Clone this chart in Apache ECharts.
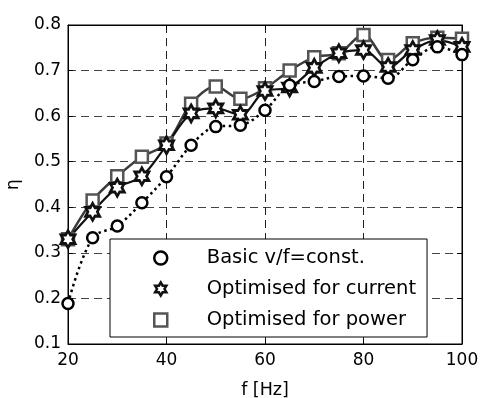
<!DOCTYPE html>
<html>
<head>
<meta charset="utf-8">
<script src="https://cdn.jsdelivr.net/npm/echarts@6/dist/echarts.min.js"></script>
<style>
  html, body {margin: 0; padding: 0; background: #fff;}
  #main {width: 481px; height: 398px;}
</style>
</head>
<body>
<div id="main"></div>
<script>
// frequency [Hz]
const freq = [20, 25, 30, 35, 40, 45, 50, 55, 60, 65, 70, 75, 80, 85, 90, 95, 100];
// efficiency for each control scheme
const basic = [0.189, 0.333, 0.359, 0.410, 0.467, 0.536, 0.577, 0.580, 0.613, 0.668, 0.676, 0.687, 0.688, 0.683, 0.724, 0.752, 0.735];
const current = [0.330, 0.390, 0.443, 0.468, 0.536, 0.606, 0.617, 0.603, 0.655, 0.663, 0.706, 0.738, 0.745, 0.708, 0.745, 0.767, 0.752];
const power = [0.330, 0.415, 0.468, 0.511, 0.540, 0.627, 0.665, 0.638, 0.661, 0.700, 0.729, 0.738, 0.778, 0.723, 0.760, 0.772, 0.770];
const names = ['Basic v/f=const.', 'Optimised for current', 'Optimised for power'];

const hexagram = 'path://M10,0L12.887,5L18.66,5L15.774,10L18.66,15L12.887,15L10,20L7.113,15L1.34,15L4.226,10L1.34,5L7.113,5Z';
const square = 'path://M0,0L10,0L10,10L0,10Z';
const font = 'DejaVu Sans';

const pairs = (ys) => freq.map((f, i) => [f, ys[i]]);

let myChart = echarts.init(document.getElementById('main'));
let option = {
  animation: false,
  backgroundColor: '#fff',
  grid: {
    left: 68, right: 19, top: 25, bottom: 54,
    outerBoundsMode: 'none', containLabel: false,
    show: true, borderColor: '#000', borderWidth: 1,
  },
  xAxis: [
    {
      type: 'value', min: 20, max: 100, interval: 20,
      name: 'f [Hz]', nameLocation: 'middle', nameGap: 37,
      nameTextStyle: {fontFamily: font, fontSize: 17.5, color: '#000'},
      axisLine: {lineStyle: {color: '#000', width: 1}},
      axisTick: {inside: true, length: 5, lineStyle: {color: '#000'}},
      axisLabel: {margin: 8, fontFamily: font, fontSize: 17, color: '#000'},
      splitLine: {lineStyle: {color: '#222', width: 1, type: [8, 5]}},
    },
    {
      type: 'value', position: 'top', min: 20, max: 100, interval: 20,
      axisLine: {lineStyle: {color: '#000'}},
      axisTick: {inside: true, length: 5, lineStyle: {color: '#000'}},
      axisLabel: {show: false}, splitLine: {show: false},
    },
  ],
  yAxis: [
    {
      type: 'value', min: 0.1, max: 0.8, interval: 0.1,
      name: 'η', nameLocation: 'middle', nameGap: 46,
      nameTextStyle: {fontFamily: font, fontSize: 17, color: '#000'},
      axisLine: {lineStyle: {color: '#000', width: 1}},
      axisTick: {inside: true, length: 5, lineStyle: {color: '#000'}},
      axisLabel: {margin: 7, fontFamily: font, fontSize: 17, color: '#000', formatter: (v) => v.toFixed(1)},
      splitLine: {lineStyle: {color: '#444', width: 1, type: [8, 5]}},
    },
    {
      type: 'value', position: 'right', min: 0.1, max: 0.8, interval: 0.1,
      axisLine: {lineStyle: {color: '#000'}},
      axisTick: {inside: true, length: 5, lineStyle: {color: '#000'}},
      axisLabel: {show: false}, splitLine: {show: false},
    },
  ],
  legend: {
    orient: 'vertical',
    left: 110, top: 239,
    padding: [9, 11, 7, 43],
    itemWidth: 82, itemHeight: 13, itemGap: 11,
    backgroundColor: '#fff', borderColor: '#000', borderWidth: 1, borderRadius: 0,
    textStyle: {fontFamily: font, fontSize: 19.5, color: '#000'},
    data: [
      {name: names[0], icon: 'circle', itemStyle: {color: '#fff', borderColor: '#000', borderWidth: 2.5}},
      {name: names[1], icon: hexagram, itemStyle: {color: '#fff', borderColor: '#111', borderWidth: 2.5}},
      {name: names[2], icon: square, itemStyle: {color: '#fff', borderColor: '#555', borderWidth: 2.5}},
    ],
  },
  series: [
    {
      name: names[2], type: 'line', data: pairs(power), smooth: 0.35,
      symbol: square, symbolSize: 12,
      lineStyle: {color: '#3c3c3c', width: 2.5},
      itemStyle: {color: '#fff', borderColor: '#555', borderWidth: 2.5},
    },
    {
      name: names[1], type: 'line', data: pairs(current), smooth: 0.35,
      symbol: hexagram, symbolSize: [14, 17],
      lineStyle: {color: '#111', width: 2.2},
      itemStyle: {color: '#fff', borderColor: '#111', borderWidth: 2.8},
    },
    {
      name: names[0], type: 'line', data: pairs(basic), smooth: 0.35,
      symbol: 'circle', symbolSize: 11,
      lineStyle: {color: '#000', width: 2.5, type: [2.5, 3.5]},
      itemStyle: {color: '#fff', borderColor: '#000', borderWidth: 2.5},
    },
  ],
};
option && myChart.setOption(option);
</script>
</body>
</html>
